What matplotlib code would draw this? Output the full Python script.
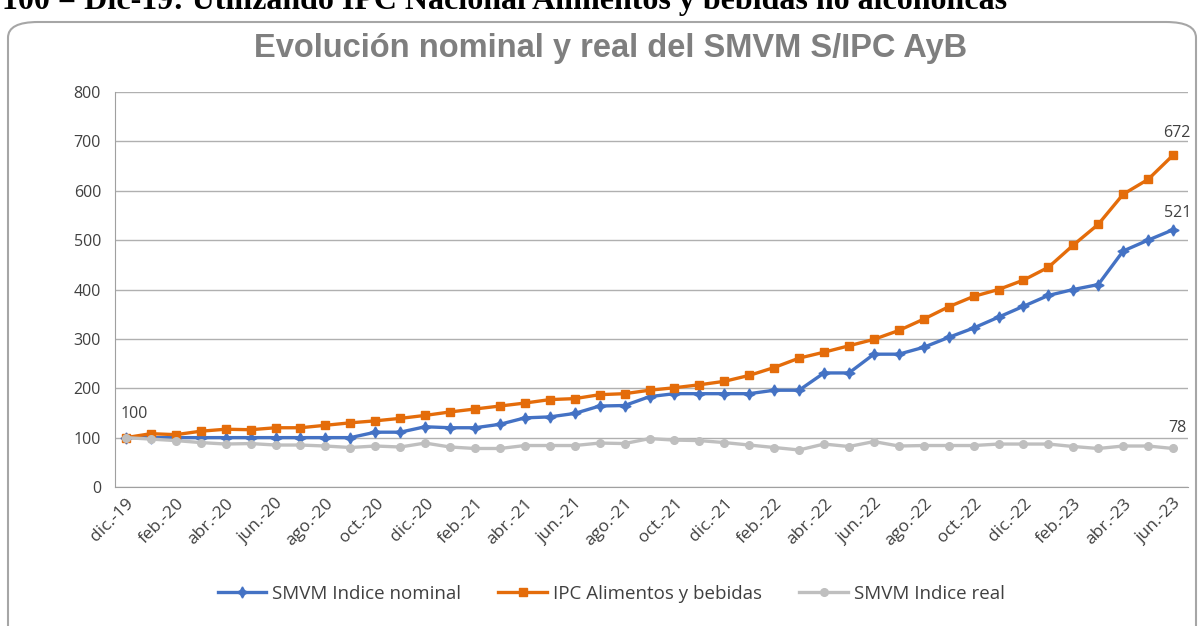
import matplotlib
matplotlib.use("Agg")
import matplotlib.pyplot as plt
from matplotlib.patches import FancyBboxPatch

# monthly index, dic-19 = 100
nominal = [100, 100, 100, 100, 100, 100, 100, 100, 100, 100,
           111, 111, 122, 120, 120, 127, 140, 142, 149, 164,
           165, 183, 189, 189, 189, 189, 196, 196, 231, 231,
           269, 269, 283, 303, 322, 344, 366, 388, 400, 410,
           478, 500, 521]
ipc = [100, 108, 106, 113, 117, 116, 120, 120, 125, 130,
       134, 139, 145, 152, 158, 164, 170, 177, 179, 187,
       189, 196, 201, 207, 214, 226, 242, 261, 273, 286,
       299, 317, 340, 365, 386, 400, 419, 445, 490, 532,
       593, 623, 672]
real = [100, 97, 94, 90, 87, 88, 85, 85, 83, 80,
        83, 81, 89, 81, 78, 78, 84, 84, 84, 89,
        88, 98, 95, 94, 90, 85, 80, 75, 87, 82,
        92, 83, 84, 84, 84, 87, 87, 87, 82, 78,
        83, 83, 78]
tick_labels = ["dic.-19", "feb.-20", "abr.-20", "jun.-20", "ago.-20", "oct.-20",
               "dic.-20", "feb.-21", "abr.-21", "jun.-21", "ago.-21", "oct.-21",
               "dic.-21", "feb.-22", "abr.-22", "jun.-22", "ago.-22", "oct.-22",
               "dic.-22", "feb.-23", "abr.-23", "jun.-23"]

plt.rcParams['font.family'] = ['Open Sans', 'DejaVu Sans']

fig = plt.figure(figsize=(12.02, 6.26), dpi=100)

# outer chart frame (rounded, cut off at the bottom)
frame = FancyBboxPatch((8 / 1202, -0.05), 1188 / 1202, 1 - 22 / 626 + 0.05,
                       boxstyle="round,pad=0,rounding_size=0.025",
                       transform=fig.transFigure, facecolor="white",
                       edgecolor="#a6a6a6", linewidth=1.5, zorder=-5)
fig.patches.append(frame)

# caption text clipped at the top of the image
fig.text(2 / 1202, 1 - 9 / 626, "100 = Dic-19: Utilizando IPC Nacional Alimentos y bebidas no alcohólicas",
         family="Liberation Serif", fontweight="bold", fontsize=23, color="black",
         ha="left", va="baseline")

ax = fig.add_axes([115 / 1202, 1 - 487 / 626, (1188 - 115) / 1202, (487 - 92) / 626])
ax.set_facecolor("none")
ax.set_zorder(2)

x = list(range(len(ipc)))
ax.plot(x, nominal, color="#4472C4", lw=2.4, marker=(4, 1, 0), ms=8,
        label="SMVM Indice nominal", zorder=3)
ax.plot(x, ipc, color="#E46C0A", lw=2.4, marker="s", ms=6,
        label="IPC Alimentos y bebidas", zorder=3)
ax.plot(x, real, color="#BFBFBF", lw=2.4, marker="o", ms=5.5,
        label="SMVM Indice real", zorder=3)

ax.set_ylim(0, 800)
ax.set_xlim(-0.44, 42.6)
ax.set_yticks(range(0, 801, 100))
ax.set_xticks(range(0, len(ipc), 2))
ax.set_xticklabels(tick_labels, rotation=45, ha="right", rotation_mode="anchor",
                   fontsize=12.5, color="#404040")
ax.tick_params(axis="y", labelsize=11.5, labelcolor="#404040", length=0, pad=10)
ax.tick_params(axis="x", length=0, pad=6)
ax.grid(axis="y", color="#b0b0b0", lw=1)
ax.set_axisbelow(True)
for s in ["top", "right"]:
    ax.spines[s].set_visible(False)
ax.spines["left"].set_color("#a0a0a0")
ax.spines["bottom"].set_color("#a0a0a0")

# data labels
ax.annotate("100", (0, ipc[0]), xytext=(-4, 11), textcoords="offset points",
            fontsize=11.5, color="#404040", ha="left", va="bottom")
ax.annotate(str(ipc[-1]), (42, ipc[-1]), xytext=(3, 10), textcoords="offset points",
            fontsize=11.5, color="#404040", ha="center", va="bottom")
ax.annotate(str(nominal[-1]), (42, nominal[-1]), xytext=(3, 6), textcoords="offset points",
            fontsize=11.5, color="#404040", ha="center", va="bottom")
ax.annotate(str(real[-1]), (42, real[-1]), xytext=(3, 9), textcoords="offset points",
            fontsize=11.5, color="#404040", ha="center", va="bottom")

fig.text(611 / 1202, 1 - 49 / 626, "Evolución nominal y real del SMVM S/IPC AyB",
         family="Liberation Sans", fontweight="bold", fontsize=23.5, color="#7f7f7f",
         ha="center", va="center")

fig.legend(loc="center", bbox_to_anchor=(611 / 1202, 1 - 594 / 626), ncol=3,
           frameon=False, fontsize=13.5, handlelength=2.6, columnspacing=2.0,
           labelcolor="#404040", handletextpad=0.3)

fig.savefig("out.png", dpi=100)
